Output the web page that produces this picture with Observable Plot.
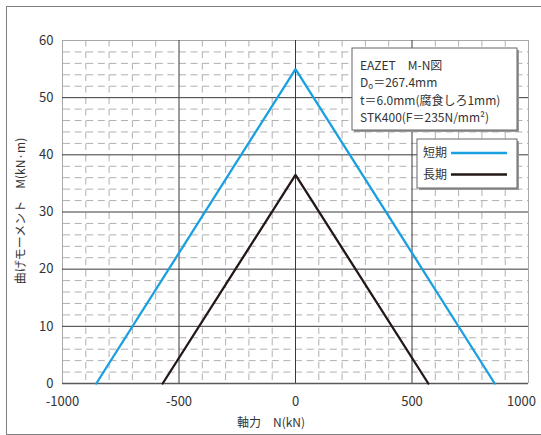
<!DOCTYPE html>
<html>
<head>
<meta charset="utf-8">
<script src="https://cdn.jsdelivr.net/npm/d3@7"></script>
<script src="https://cdn.jsdelivr.net/npm/@observablehq/plot@0.6"></script>
<style>
  body { margin: 0; background: #fff; }
  #wrap { position: relative; width: 541px; height: 435px; overflow: hidden; }
  #frame { position: absolute; left: 6px; top: 6px; width: 560px; height: 429px; border: 1.5px solid #808080; box-sizing: border-box; pointer-events: none; }
</style>
</head>
<body>
<div id="wrap"><div id="frame"></div></div>
<script>
// ---- data ----
const seriesNames = ["短期", "長期"];
const seriesColors = ["#1a9fe0", "#231815"];
const shortN = [-855, 0, 855];
const shortM = [0, 55, 0];
const longN = [-570, 0, 570];
const longM = [0, 36.5, 0];
const xTicks = [-1000, -500, 0, 500, 1000];
const yTicks = [0, 10, 20, 30, 40, 50, 60];
const xLabel = "軸力　N(kN)";
const yLabel = "曲げモーメント　M(kN·m)";
// each note line: [main text, subscript, rest]
const noteLines = [
  ["EAZET　M-N図", "", ""],
  ["D", "o", "＝267.4mm"],
  ["t＝6.0mm(腐食しろ1mm)", "", ""],
  ["STK400(F＝235N/mm²)", "", ""]
];

const rows = [
  ...shortN.map((n, i) => ({series: seriesNames[0], N: n, M: shortM[i]})),
  ...longN.map((n, i) => ({series: seriesNames[1], N: n, M: longM[i]}))
];

const minorX = d3.range(-900, 1000, 100).filter(v => v % 500 !== 0);
const minorY = d3.range(2, 60, 2).filter(v => v % 10 !== 0);
const majorX = [-500, 0, 500];
const majorY = [10, 20, 30, 40, 50];

const FONT = "'Noto Sans CJK JP', 'Noto Sans', sans-serif";
const fmt = d => String(d);

const chart = Plot.plot({
  width: 541,
  height: 435,
  marginLeft: 62,
  marginRight: 13,
  marginTop: 40,
  marginBottom: 52,
  style: {fontFamily: FONT, fontSize: "13px", color: "#333", background: "transparent"},
  x: {domain: [-1000, 1000], label: null},
  y: {domain: [0, 60], label: null},
  color: {domain: seriesNames, range: seriesColors},
  marks: [
    Plot.ruleX(minorX, {stroke: "#b0b0b0", strokeWidth: 1, strokeDasharray: "6.5,5"}),
    Plot.ruleY(minorY, {stroke: "#b0b0b0", strokeWidth: 1, strokeDasharray: "7,4.6", strokeDashoffset: -1}),
    Plot.ruleX([-1000, 1000], {stroke: "#a8a8a8", strokeWidth: 1}),
    Plot.ruleY([60], {stroke: "#a8a8a8", strokeWidth: 1}),
    Plot.ruleX(majorX, {stroke: "#3a3a3a", strokeWidth: 1}),
    Plot.ruleY(majorY, {stroke: "#3a3a3a", strokeWidth: 1}),
    Plot.ruleY([0], {stroke: "#5a5a5a", strokeWidth: 1.6}),
    Plot.axisX(xTicks.filter(v => v < 1000), {tickSize: 0, tickPadding: 13, fontSize: 13, fill: "#333", tickFormat: fmt}),
    Plot.axisX(xTicks.filter(v => v >= 1000), {tickSize: 0, tickPadding: 13, fontSize: 13, fill: "#333", tickFormat: fmt, dx: -7}),
    Plot.axisY(yTicks, {tickSize: 0, tickPadding: 9, fontSize: 13, fill: "#333", tickFormat: fmt}),
    Plot.line(rows, {x: "N", y: "M", z: "series", stroke: "series", strokeWidth: 2.3, strokeLinejoin: "miter"})
  ]
});

document.getElementById("wrap").appendChild(chart);
chart.style.position = "absolute";
chart.style.left = "0px";
chart.style.top = "0px";

const svg = d3.select(chart);

// axis titles
svg.append("text")
  .attr("x", 271).attr("y", 427)
  .attr("text-anchor", "middle")
  .attr("font-family", FONT).attr("font-size", 12).attr("fill", "#333")
  .text(xLabel);
svg.append("text")
  .attr("transform", "translate(25,211) rotate(-90)")
  .attr("text-anchor", "middle")
  .attr("font-family", FONT).attr("font-size", 12).attr("fill", "#333")
  .text(yLabel);

// annotation box
const note = svg.append("g");
note.append("rect").attr("x", 354).attr("y", 50).attr("width", 165).attr("height", 82).attr("fill", "#999");
note.append("rect").attr("x", 352).attr("y", 48).attr("width", 165).attr("height", 82)
  .attr("fill", "#fff").attr("stroke", "#666").attr("stroke-width", 1);
noteLines.forEach(([a, sub, rest], i) => {
  const t = note.append("text")
    .attr("x", 360).attr("y", 69.5 + i * 17.5)
    .attr("text-anchor", "start")
    .attr("font-family", FONT).attr("font-size", 12).attr("fill", "#333");
  t.append("tspan").text(a);
  if (sub) {
    t.append("tspan").attr("font-size", 8).attr("dy", 2).text(sub);
    t.append("tspan").attr("dy", -2).text(rest);
  }
});

// legend box
const leg = svg.append("g");
leg.append("rect").attr("x", 419).attr("y", 141).attr("width", 100).attr("height", 49).attr("fill", "#999");
leg.append("rect").attr("x", 417).attr("y", 139).attr("width", 100).attr("height", 49)
  .attr("fill", "#fff").attr("stroke", "#666").attr("stroke-width", 1);
seriesNames.forEach((name, i) => {
  const cy = 153 + i * 21.5;
  leg.append("text").attr("x", 423).attr("y", cy + 4)
    .attr("text-anchor", "start")
    .attr("font-family", FONT).attr("font-size", 12).attr("fill", "#333").text(name);
  leg.append("line").attr("x1", 451).attr("x2", 507).attr("y1", cy).attr("y2", cy)
    .attr("stroke", seriesColors[i]).attr("stroke-width", 2.3);
});
</script>
</body>
</html>
